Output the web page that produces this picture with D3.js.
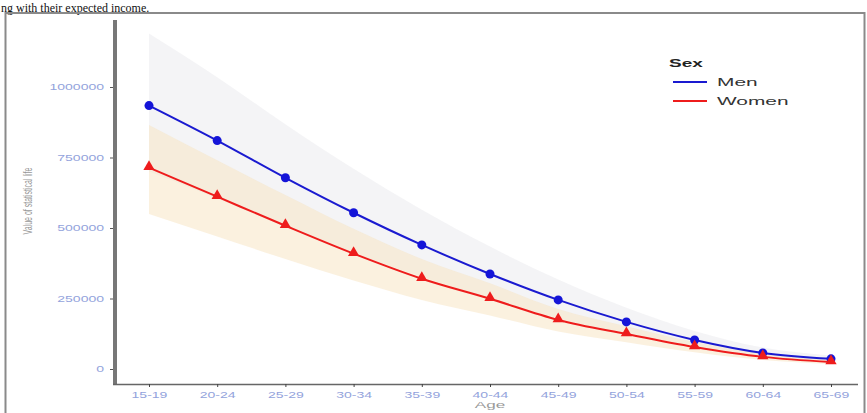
<!DOCTYPE html>
<html>
<head>
<meta charset="utf-8">
<script src="https://cdn.jsdelivr.net/npm/d3@7"></script>
<style>
  body { margin: 0; background: #fff; }
  svg { display: block; }
</style>
</head>
<body>
<svg id="chart" width="867" height="413"></svg>
<script>
// age groups along the x axis
var ages = ["15-19", "20-24", "25-29", "30-34", "35-39", "40-44", "45-49", "50-54", "55-59", "60-64", "65-69"];

// value of statistical life, point estimates
var men   = [934000, 810000, 678000, 554000, 440000, 337000, 245000, 167000, 103000, 57000, 36000];
var women = [714000, 611000, 508000, 409000, 320000, 249000, 174000, 124000, 78000, 43000, 25000];

// uncertainty bands
var menHi   = [1190000, 1035000, 868000, 710000, 565000, 434000, 317000, 217000, 135000, 76000, 48000];
var menLo   = [700000, 605000, 505000, 412000, 327000, 250000, 180000, 122000, 75000, 40000, 25000];
var womenHi = [865000, 740000, 617000, 497000, 390000, 304000, 213000, 152000, 96000, 54000, 32000];
var womenLo = [550000, 470000, 390000, 314000, 245000, 190000, 133000, 95000, 59000, 32000, 18000];

var yTicks = [0, 250000, 500000, 750000, 1000000];

// the source picture is stretched sideways, text included
var stretch = 1.65;

var svg = d3.select("#chart");

// caption fragment at the top of the picture
svg.append("text")
    .attr("x", 1).attr("y", 11.5)
    .style("font-family", "Liberation Serif")
    .style("font-size", "12px")
    .style("fill", "#111")
    .text("ng with their expected income.");

// outer frame
svg.append("rect")
    .attr("x", 5.5).attr("y", 13)
    .attr("width", 859).attr("height", 420)
    .style("fill", "none")
    .style("stroke", "#8a8a8a")
    .style("stroke-width", 2);

var x = d3.scalePoint().domain(ages).range([149, 831]);
var y = d3.scaleLinear().domain([0, 1000000]).range([369, 87]);

var g = svg.append("g");

// Bands first, so lines sit on top.
var area = function(lo, hi) {
    return d3.area()
        .x(function(d, i) { return x(ages[i]); })
        .y0(function(d, i) { return y(lo[i]); })
        .y1(function(d, i) { return y(hi[i]); })
        .curve(d3.curveMonotoneX)(ages);
};

g.append("path")
    .attr("d", area(menLo, menHi))
    .style("fill", "#e6e6ec")
    .style("fill-opacity", 0.45);

g.append("path")
    .attr("d", area(womenLo, womenHi))
    .style("fill", "#f7e3c0")
    .style("fill-opacity", 0.5);

// axes
var yAxis = g.append("g")
    .attr("transform", "translate(115,0)")
    .call(d3.axisLeft(y).tickValues(yTicks).tickSize(5).tickFormat(d3.format("d")));
yAxis.select(".domain").remove();
yAxis.selectAll("line").style("stroke", "#555");
yAxis.selectAll("text")
    .attr("x", 0)
    .attr("transform", "translate(-11,0) scale(" + stretch + ",1)")
    .style("font-family", "Liberation Sans")
    .style("font-size", "8.5px")
    .style("fill", "#93a3dc");

g.append("line")
    .attr("x1", 115).attr("x2", 115)
    .attr("y1", 20).attr("y2", 385)
    .style("stroke", "#777")
    .style("stroke-width", 4);

var xAxis = g.append("g")
    .attr("transform", "translate(0,384)")
    .call(d3.axisBottom(x).tickSize(3).tickPadding(5));
xAxis.select(".domain")
    .attr("d", "M113,0.5H858")
    .style("stroke", "#666")
    .style("stroke-width", 1.5);
xAxis.selectAll("line").style("stroke", "#444");
xAxis.selectAll("text")
    .attr("transform", "scale(" + stretch + ",1)")
    .attr("x", 0)
    .style("font-family", "Liberation Sans")
    .style("font-size", "8.5px")
    .style("fill", "#93a3dc");

// axis titles
svg.append("text")
    .attr("transform", "translate(490,408) scale(1.9,1)")
    .attr("text-anchor", "middle")
    .style("font-family", "Liberation Sans")
    .style("font-size", "9px")
    .style("fill", "#999")
    .text("Age");

svg.append("text")
    .attr("transform", "translate(32,201) scale(1.8,1) rotate(-90)")
    .attr("text-anchor", "middle")
    .style("font-family", "Liberation Sans")
    .style("font-size", "7px")
    .style("fill", "#999")
    .text("Value of statistical life");

// lines and markers
var line = d3.line()
    .x(function(d, i) { return x(ages[i]); })
    .y(function(d) { return y(d); })
    .curve(d3.curveMonotoneX);

g.append("path")
    .attr("d", line(men))
    .style("fill", "none")
    .style("stroke", "#1a1ad0")
    .style("stroke-width", 2);

g.append("path")
    .attr("d", line(women))
    .style("fill", "none")
    .style("stroke", "#ee1c1c")
    .style("stroke-width", 2);

g.selectAll("circle.men")
    .data(men)
    .enter().append("circle")
    .attr("class", "men")
    .attr("cx", function(d, i) { return x(ages[i]); })
    .attr("cy", function(d) { return y(d); })
    .attr("r", 4.5)
    .style("fill", "#1414d8");

var tri = d3.symbol().type(d3.symbolTriangle).size(55);
g.selectAll("path.women")
    .data(women)
    .enter().append("path")
    .attr("class", "women")
    .attr("d", tri)
    .attr("transform", function(d, i) { return "translate(" + x(ages[i]) + "," + (y(d) - 1) + ")"; })
    .style("fill", "#ee1c1c");

// legend
var legend = svg.append("g").attr("transform", "translate(669,0)");
legend.append("text")
    .attr("transform", "translate(0,67) scale(1.9,1)")
    .style("font-family", "Liberation Sans")
    .style("font-size", "10px")
    .style("font-weight", "bold")
    .style("fill", "#222")
    .text("Sex");

var legendItems = [
    { name: "Men", color: "#1a1ad0", y: 82 },
    { name: "Women", color: "#ee1c1c", y: 101 }
];
legendItems.forEach(function(d) {
    legend.append("line")
        .attr("x1", 4).attr("x2", 38)
        .attr("y1", d.y).attr("y2", d.y)
        .style("stroke", d.color)
        .style("stroke-width", 2);
    legend.append("text")
        .attr("transform", "translate(48," + (d.y + 4) + ") scale(1.9,1)")
        .style("font-family", "Liberation Sans")
        .style("font-size", "11px")
        .style("fill", "#333")
        .text(d.name);
});
</script>
</body>
</html>
